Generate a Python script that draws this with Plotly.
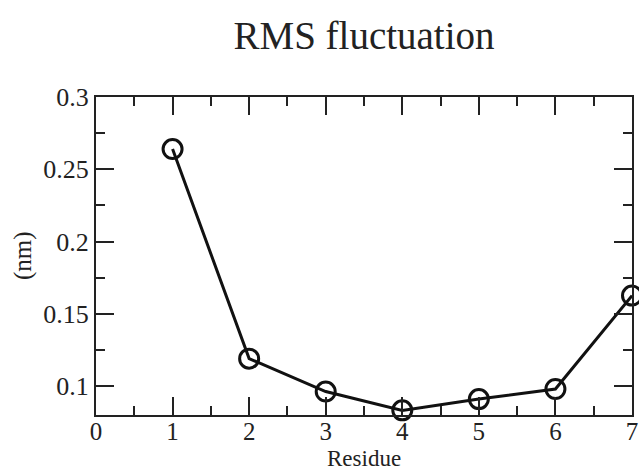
import plotly.graph_objects as go

residue = [1, 2, 3, 4, 5, 6, 7]
rmsf_nm = [0.264, 0.119, 0.0962, 0.0832, 0.091, 0.098, 0.1626]

SERIF = "Liberation Serif, Times New Roman, Times, serif"
INK = "#222222"

fig = go.Figure()
fig.add_trace(go.Scatter(
    x=residue, y=rmsf_nm, mode="lines+markers",
    line=dict(color="#111111", width=3),
    marker=dict(symbol="circle-open", size=19, color="#111111", line=dict(width=3)),
    cliponaxis=False,
))

axis_common = dict(
    showline=True, linecolor=INK, linewidth=2, mirror="ticks",
    ticks="inside", ticklen=18, tickwidth=2, tickcolor=INK,
    showgrid=False, zeroline=False, automargin=False,
    tickfont=dict(family=SERIF, size=26, color=INK),
)

fig.update_xaxes(
    range=[0, 7], dtick=1, tick0=0, ticklabelstandoff=-7,
    tickfont=dict(family=SERIF, size=25, color=INK),
    minor=dict(dtick=0.5, ticks="inside", ticklen=9, tickwidth=2, tickcolor=INK),
    **{k: v for k, v in axis_common.items() if k != "tickfont"},
)
fig.update_yaxes(
    range=[0.08, 0.3], dtick=0.05, tick0=0,
    minor=dict(dtick=0.025, ticks="inside", ticklen=9, tickwidth=2, tickcolor=INK),
    **axis_common,
)

fig.add_annotation(text="Residue", xref="paper", yref="paper", x=0.5, y=0,
                   xanchor="center", yanchor="middle", yshift=-43, showarrow=False,
                   borderpad=0, font=dict(family=SERIF, size=23, color=INK))
fig.add_annotation(text="(nm)", xref="paper", yref="paper", x=0, y=0.5,
                   xanchor="center", yanchor="middle", xshift=-73, textangle=-90,
                   showarrow=False, font=dict(family=SERIF, size=25, color=INK))

fig.update_layout(
    width=639, height=472,
    margin=dict(l=96, r=7, t=97, b=57),
    paper_bgcolor="white", plot_bgcolor="white",
    showlegend=False,
    title=dict(text="RMS fluctuation", x=364 / 639, xanchor="center",
               y=1 - 35 / 472, yanchor="middle",
               font=dict(family=SERIF, size=39, color=INK)),
)

fig.write_html("out.html")
